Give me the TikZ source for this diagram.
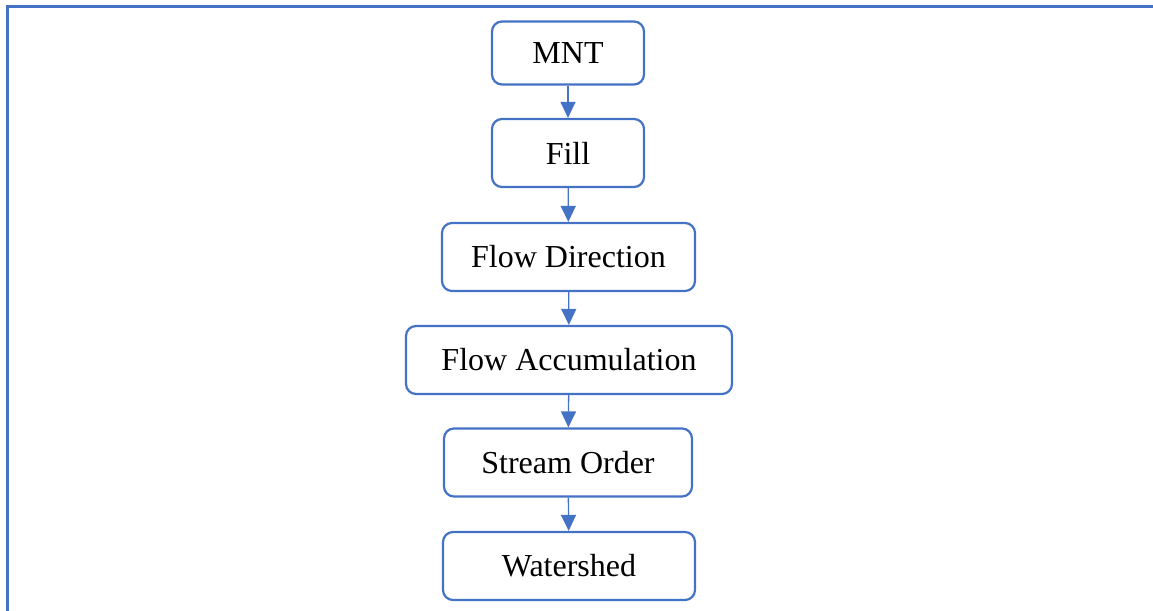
\documentclass[tikz,border=0pt]{standalone}
\usepackage{fontspec}
\setmainfont{Liberation Serif}
\usetikzlibrary{arrows.meta}
\definecolor{obl}{HTML}{4472C4}
\begin{document}
\begin{tikzpicture}[x=1pt,y=-1pt,
  stepbox/.style={draw=obl,line width=2.2pt,rounded corners=10pt,fill=white,
    inner sep=0pt,minimum height=68pt,font=\fontsize{32}{38}\selectfont,text=black},
  conn/.style={draw=obl,line width=1.3pt,-{Triangle[length=16pt,width=15pt]}}]
\useasboundingbox (0,0) rectangle (1153,610);
\coordinate (fl) at (7.5,640);
\coordinate (ftl) at (7.5,6.5);
\coordinate (ftr) at (1170,6.5);
\draw[obl,line width=2.2pt] (fl) -- (ftl) -- (ftr);
\node[stepbox,minimum width=152pt,minimum height=63pt] (a) at (568,53) {MNT};
\node[stepbox,minimum width=152pt] (b) at (568,153) {Fill};
\node[stepbox,minimum width=253pt] (c) at (568.5,257) {Flow Direction};
\node[stepbox,minimum width=326pt] (d) at (569,360) {Flow Accumulation};
\node[stepbox,minimum width=248pt] (e) at (568,462.5) {Stream Order};
\node[stepbox,minimum width=252pt] (f) at (569,566) {Watershed};
\draw[conn] (a) -- (b);
\draw[conn] (b) -- (c);
\draw[conn] (c) -- (d);
\draw[conn] (d) -- (e);
\draw[conn] (e) -- (f);
\end{tikzpicture}
\end{document}
